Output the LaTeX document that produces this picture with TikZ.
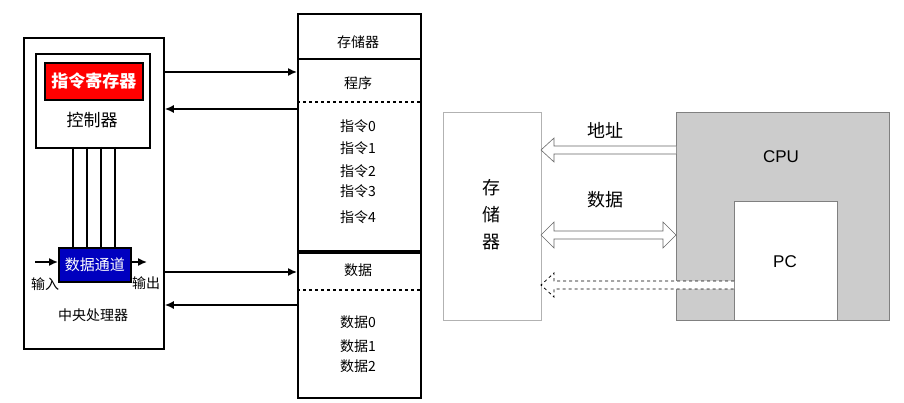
\documentclass[tikz,border=0pt]{standalone}
\usepackage{fontspec}
\setmainfont{Liberation Serif}
\newfontfamily\cjk{Noto Sans CJK SC}
\newfontfamily\arial{Liberation Sans}
\begin{document}
\begin{tikzpicture}[x=1pt,y=-1pt,
  box/.style={draw,line width=1.8pt},
  lbl/.style={font=\cjk\fontsize{14}{15}\selectfont},
  arr/.style={line width=1.5pt,-{Latex[length=9pt,width=8pt]}},
  hollow/.style={draw=gray!80!black,fill=white,line width=0.6pt}]
\usetikzlibrary{arrows.meta}
\useasboundingbox (0,0) rectangle (904,403);
% left CPU
\node[box,minimum width=140pt,minimum height=311pt,anchor=north west] (cpu) at (23,37) {};
\node[box,minimum width=114pt,minimum height=94pt,anchor=north west] (ctl) at (35,53) {};
\node[box,fill=red,minimum width=98pt,minimum height=37pt,anchor=north west,inner sep=0pt] (ir) at (44,62) {};
\node[font=\cjk\bfseries\fontsize{17}{18}\selectfont,text=white] (irt) at (ir.center) {指令寄存器};
\node[font=\cjk\fontsize{17}{18}\selectfont] (ctlt) at (92,120) {控制器};
\node[box,fill=blue!75!black,minimum width=72pt,minimum height=34pt,anchor=north west] (dp) at (58,247) {};
\node[font=\cjk\fontsize{15}{16}\selectfont,text=white] (dpt) at (dp.center) {数据通道};
\foreach \x in {73,87,101,115} \draw[line width=1.4pt] (\x,147) -- (\x,247);
\coordinate (in) at (35,262);
\coordinate (out) at (147,262);
\draw[arr] (in) -- (dp.west|-in);
\draw[arr] (dp.east|-out) -- (out);
\node[lbl] (inl) at (45,284) {输入};
\node[lbl] (outl) at (146,283) {输出};
\node[lbl] (cput) at (93,315) {中央处理器};
% memory
\node[box,minimum width=123pt,minimum height=45pt,anchor=north west] (m0) at (297,13) {};
\node[box,minimum width=123pt,minimum height=192pt,anchor=north west] (m1) at (297,58) {};
\node[box,minimum width=123pt,minimum height=145pt,anchor=north west] (m2) at (297,252) {};
\draw[dashed,line width=1.2pt] (297,102) -- (420,102);
\draw[dashed,line width=1.2pt] (297,290) -- (420,290);
\node[lbl] (t0) at (358,42) {存储器};
\node[lbl] (t1) at (358,83) {程序};
\foreach \y/\n in {126/0,148/1,171/2,191/3,217/4} \node[lbl] (i\n) at (358,\y) {指令\n};
\node[lbl] (t2) at (358,270) {数据};
\foreach \y/\n in {322/0,346/1,366/2} \node[lbl] (d\n) at (358,\y) {数据\n};
\draw[arr] (cpu.east|-0,72) -- (m1.west|-0,72);
\draw[arr] (m1.west|-0,109) -- (cpu.east|-0,109);
\draw[arr] (cpu.east|-0,272) -- (m2.west|-0,272);
\draw[arr] (m2.west|-0,305) -- (cpu.east|-0,305);
% right figure
\node[draw=gray!60,line width=1pt,minimum width=98pt,minimum height=208pt,anchor=north west] (mem) at (443,112) {};
\node[font=\cjk\fontsize{18}{19}\selectfont,align=center] (memt) at (491,215) {存\\[8pt]储\\[8pt]器};
\node[draw=gray,fill=gray!40,minimum width=213pt,minimum height=208pt,anchor=north west] (cpu2) at (676,112) {};
\node[draw=gray,fill=white,minimum width=103pt,minimum height=119pt,anchor=north west] (pc) at (734,201) {};
\node[font=\arial\fontsize{17}{18}\selectfont] (cpul) at (781,157) {CPU};
\node[font=\arial\fontsize{17}{18}\selectfont] (pcl) at (785,262) {PC};
\node[font=\cjk\fontsize{18}{19}\selectfont] (addr) at (605,130) {地址};
\node[font=\cjk\fontsize{18}{19}\selectfont] (data) at (605,200) {数据};
% address arrow
\draw[hollow] (676,146) -- (554,146) -- (554,138) -- (541,150) -- (554,162) -- (554,154) -- (676,154);
% data double arrow
\draw[hollow] (554,231) -- (663,231) -- (663,222) -- (676,235) -- (663,248) -- (663,239) -- (554,239) -- (554,248) -- (541,235) -- (554,222) -- cycle;
% pc dashed arrow
\draw[dashed,line width=0.8pt,fill=white] (734,281) -- (554,281) -- (554,273) -- (541,285) -- (554,297) -- (554,289) -- (734,289);
\end{tikzpicture}
\end{document}
